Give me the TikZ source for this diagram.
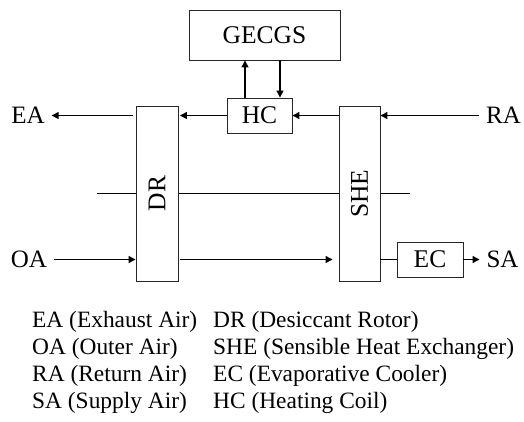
\documentclass[tikz,border=0pt]{standalone}
\usepackage{fontspec}
\setmainfont{Liberation Serif}
\usepackage{tikz}
\usetikzlibrary{positioning, arrows.meta, calc}

\begin{document}
\begin{tikzpicture}[
    x=1pt, y=-1pt,
    boxNode/.style={rectangle, draw=black!85, line width=0.9pt, fill=white, inner sep=0pt, font=\fontsize{25.5}{30}\selectfont},
    labelNode/.style={inner sep=0pt, outer sep=7pt, font=\fontsize{25}{30}\selectfont},
    legendNode/.style={inner sep=0pt, align=left, anchor=north west, font=\fontsize{23.4}{27}\selectfont},
    flowArrow/.style={line width=1.3pt, -{Triangle[length=7pt, width=7pt]}},
    flowLine/.style={line width=1.3pt}
]
    \useasboundingbox (0,0) rectangle (524,421);

    % Middle line (behind the rotors)
    \coordinate (midL) at (97,193.5);
    \coordinate (midR) at (410,193.5);
    \draw[flowLine] (midL) -- (midR);

    % Components
    \node[boxNode, minimum width=151pt, minimum height=50pt] (gecgs) at (264.5,35) {GECGS};
    \node[boxNode, minimum width=65pt, minimum height=35pt] (hc) at (259.5,115.5) {HC};
    \node[boxNode, rotate=90, minimum width=175pt, minimum height=42pt] (dr) at (157,193.5) {DR};
    \node[boxNode, rotate=90, minimum width=175pt, minimum height=41pt] (she) at (359.5,193.5) {SHE};
    \node[boxNode, minimum width=66pt, minimum height=35pt] (ec) at (430,259.5) {EC};

    % Air streams
    \node[labelNode] (ea) at (28,115.5) {EA};
    \node[labelNode] (ra) at (503.5,115.5) {RA};
    \node[labelNode] (oa) at (29,259.5) {OA};
    \node[labelNode] (sa) at (502.5,259.5) {SA};

    % Connecting arrows
    \draw[flowArrow] (ra) -- (ra -| she.south);
    \draw[flowArrow] (she.north |- hc) -- (hc);
    \draw[flowArrow, shorten >=1.5pt] (hc) -- (hc -| dr.south);
    \draw[flowArrow, shorten <=3pt] (dr.north |- ea) -- (ea);
    \draw[flowArrow] ([xshift=-14.5pt]hc.north) -- ([xshift=-14.5pt]hc.north |- gecgs.south);
    \draw[flowArrow] ([xshift=20.5pt]hc.north |- gecgs.south) -- ([xshift=20.5pt]hc.north);

    \draw[flowArrow] (oa) -- (oa -| dr.north);
    \draw[flowArrow, shorten <=2pt, shorten >=6pt] (dr.south |- oa) -- (she.north |- oa);
    \draw[flowLine] (she.south |- ec) -- (ec);
    \draw[flowArrow] (ec) -- (sa);

    % Legend
    \node[legendNode] (legAir) at (32,311.5) {EA (Exhaust Air)\\OA (Outer Air)\\RA (Return Air)\\SA (Supply Air)};
    \node[legendNode] (legPart) at (213,311.5) {DR (Desiccant Rotor)\\SHE (Sensible Heat Exchanger)\\EC (Evaporative Cooler)\\HC (Heating Coil)};

\end{tikzpicture}
\end{document}
